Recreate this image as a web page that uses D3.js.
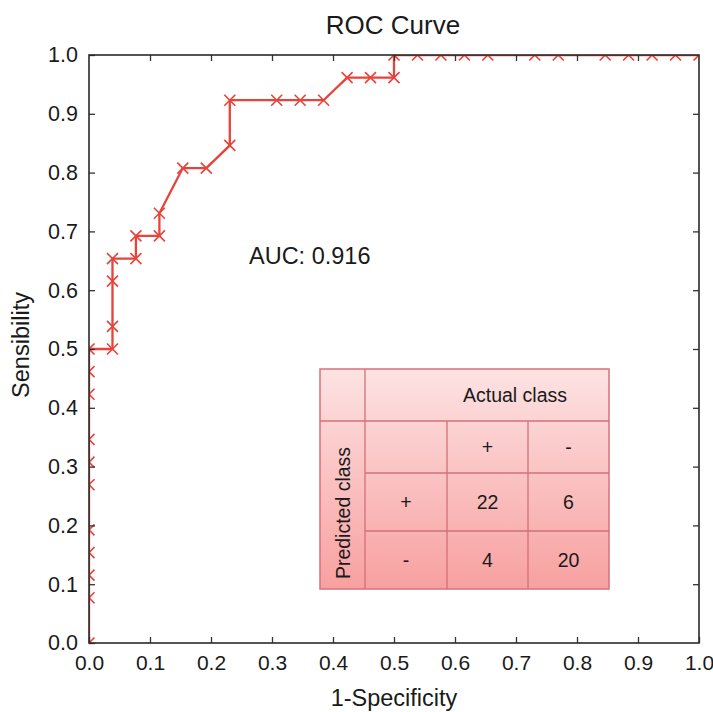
<!DOCTYPE html>
<html>
<head>
<meta charset="utf-8">
<script src="https://cdn.jsdelivr.net/npm/d3@7"></script>
<style>
  body { margin: 0; background: #fff; }
  text { font-family: "Liberation Sans", Arial, sans-serif; fill: #1a1a1a; }
</style>
</head>
<body>
<div id="container"></div>
<script>
let width = 713;
let height = 712;

// ROC points (1-specificity, sensitivity)
let fpr = [0, 0, 0, 0, 0, 0, 0, 0, 0, 0, 0,
    0.0385, 0.0385, 0.0385, 0.0385, 0.0769, 0.0769, 0.1154, 0.1154,
    0.1538, 0.1923, 0.2308, 0.2308, 0.3077, 0.3462, 0.3846,
    0.4231, 0.4615, 0.5, 0.5, 0.5385, 0.5769, 0.6154, 0.6538,
    0.7308, 0.7692, 0.8462, 0.8846, 0.9231, 0.9615, 1.0];
let tpr = [0, 0.0769, 0.1154, 0.1538, 0.1923, 0.2692, 0.3077, 0.3462, 0.4231, 0.4615, 0.5,
    0.5, 0.5385, 0.6154, 0.6538, 0.6538, 0.6923, 0.6923, 0.7308,
    0.8077, 0.8077, 0.8462, 0.9231, 0.9231, 0.9231, 0.9231,
    0.9615, 0.9615, 0.9615, 1.0, 1.0, 1.0, 1.0, 1.0,
    1.0, 1.0, 1.0, 1.0, 1.0, 1.0, 1.0];
let ticks = [0, 0.1, 0.2, 0.3, 0.4, 0.5, 0.6, 0.7, 0.8, 0.9, 1.0];
let auc = 0.916;

// confusion matrix
let actualLabels = ['+', '-'];
let predictedLabels = ['+', '-'];
let matrix = [[22, 6], [4, 20]];

let red = '#e8433a';
let m = { left: 89, right: 699, top: 55, bottom: 643 };

let svg = d3.select('#container')
    .append('svg')
    .attr('width', width)
    .attr('height', height);

let x = d3.scaleLinear().domain([0, 1]).range([m.left, m.right]);
let y = d3.scaleLinear().domain([0, 1]).range([m.bottom, m.top]);

svg.append('defs').append('clipPath')
    .attr('id', 'plotClip')
    .append('rect')
    .attr('x', m.left)
    .attr('y', m.top)
    .attr('width', m.right - m.left)
    .attr('height', m.bottom - m.top);

let pts = fpr.map((d, i) => [d, tpr[i]]);

let plot = svg.append('g').attr('clip-path', 'url(#plotClip)');

plot.append('path')
    .datum(pts)
    .attr('d', d3.line().x(d => x(d[0])).y(d => y(d[1])))
    .attr('fill', 'none')
    .attr('stroke', red)
    .attr('stroke-width', 2.3);

let s = 5.5;
plot.selectAll('.mark')
    .data(pts)
    .enter()
    .append('path')
    .attr('class', 'mark')
    .attr('d', d => {
        let cx = x(d[0]), cy = y(d[1]);
        return `M${cx - s},${cy - s}L${cx + s},${cy + s}M${cx - s},${cy + s}L${cx + s},${cy - s}`;
    })
    .attr('stroke', red)
    .attr('stroke-width', 1.6)
    .attr('fill', 'none');

// axes: box with inward ticks on all sides
let tickLen = 6;
svg.append('g')
    .attr('transform', `translate(0,${m.bottom})`)
    .call(d3.axisBottom(x).tickValues(ticks).tickSizeInner(-tickLen).tickSizeOuter(0)
        .tickPadding(11).tickFormat(d3.format('.1f')))
    .call(g => g.selectAll('text').attr('font-size', 21).attr('dy', '0.75em'));

svg.append('g')
    .attr('transform', `translate(${m.left},0)`)
    .call(d3.axisLeft(y).tickValues(ticks).tickSizeInner(-tickLen).tickSizeOuter(0)
        .tickPadding(11).tickFormat(d3.format('.1f')))
    .call(g => g.selectAll('text').attr('font-size', 21.5));

svg.append('g')
    .attr('transform', `translate(0,${m.top})`)
    .call(d3.axisTop(x).tickValues(ticks.slice(1, -1)).tickSizeInner(-tickLen).tickSizeOuter(0).tickFormat(''));

svg.append('g')
    .attr('transform', `translate(${m.right},0)`)
    .call(d3.axisRight(y).tickValues(ticks.slice(1, -1)).tickSizeInner(-tickLen).tickSizeOuter(0).tickFormat(''));

svg.selectAll('.domain').attr('stroke', 'none');
svg.selectAll('.tick line').attr('stroke', '#333').attr('stroke-width', 1.3);
svg.selectAll('.tick text').attr('fill', '#1a1a1a').attr('font-family', '"Liberation Sans", Arial, sans-serif');

svg.append('rect')
    .attr('x', m.left)
    .attr('y', m.top)
    .attr('width', m.right - m.left)
    .attr('height', m.bottom - m.top)
    .attr('fill', 'none')
    .attr('stroke', '#2a2a2a')
    .attr('stroke-width', 1.6);

// titles
svg.append('text')
    .attr('x', 393)
    .attr('y', 34)
    .attr('text-anchor', 'middle')
    .attr('font-size', 26)
    .text('ROC Curve');

svg.append('text')
    .attr('x', 394)
    .attr('y', 706)
    .attr('text-anchor', 'middle')
    .attr('font-size', 23.5)
    .text('1-Specificity');

svg.append('text')
    .attr('transform', 'translate(29,345) rotate(-90)')
    .attr('text-anchor', 'middle')
    .attr('font-size', 23.5)
    .text('Sensibility');

svg.append('text')
    .attr('x', 249)
    .attr('y', 264)
    .attr('font-size', 23.5)
    .text('AUC: ' + auc);

// confusion matrix table
let tbl = { cols: [320, 365, 447, 528, 609], rows: [369, 421, 473, 531, 589] };
let grad = svg.select('defs').append('linearGradient')
    .attr('id', 'tblGrad')
    .attr('x1', 0).attr('y1', 0).attr('x2', 0).attr('y2', 1);
grad.append('stop').attr('offset', '0%').attr('stop-color', '#fde3e3');
grad.append('stop').attr('offset', '100%').attr('stop-color', '#f8a0a0');

let tg = svg.append('g');
tg.append('rect')
    .attr('x', tbl.cols[0])
    .attr('y', tbl.rows[0])
    .attr('width', tbl.cols[4] - tbl.cols[0])
    .attr('height', tbl.rows[4] - tbl.rows[0])
    .attr('fill', 'url(#tblGrad)')
    .attr('stroke', '#d9707a')
    .attr('stroke-width', 1.5);

let lc = '#d27078';
// vertical lines
tg.append('line').attr('x1', tbl.cols[1]).attr('x2', tbl.cols[1])
    .attr('y1', tbl.rows[0]).attr('y2', tbl.rows[4]).attr('stroke', lc).attr('stroke-width', 1.3);
[2, 3].forEach(i => {
    tg.append('line').attr('x1', tbl.cols[i]).attr('x2', tbl.cols[i])
        .attr('y1', tbl.rows[1]).attr('y2', tbl.rows[4]).attr('stroke', lc).attr('stroke-width', 1.3);
});
// horizontal lines
tg.append('line').attr('x1', tbl.cols[0]).attr('x2', tbl.cols[4])
    .attr('y1', tbl.rows[1]).attr('y2', tbl.rows[1]).attr('stroke', lc).attr('stroke-width', 1.3);
[2, 3].forEach(i => {
    tg.append('line').attr('x1', tbl.cols[1]).attr('x2', tbl.cols[4])
        .attr('y1', tbl.rows[i]).attr('y2', tbl.rows[i]).attr('stroke', lc).attr('stroke-width', 1.3);
});

let cx = i => (tbl.cols[i] + tbl.cols[i + 1]) / 2;
let cy = i => (tbl.rows[i] + tbl.rows[i + 1]) / 2;
let fs = 19.5;

tg.append('text')
    .attr('x', 515)
    .attr('y', cy(0))
    .attr('dy', '0.36em')
    .attr('text-anchor', 'middle')
    .attr('font-size', fs)
    .text('Actual class');

tg.append('text')
    .attr('transform', `translate(${cx(0) + 7},${(tbl.rows[1] + tbl.rows[4]) / 2 + 8}) rotate(-90)`)
    .attr('text-anchor', 'middle')
    .attr('font-size', fs)
    .text('Predicted class');

actualLabels.forEach((d, i) => {
    tg.append('text')
        .attr('x', cx(i + 2))
        .attr('y', cy(1))
        .attr('dy', '0.36em')
        .attr('text-anchor', 'middle')
        .attr('font-size', fs)
        .text(d);
});

predictedLabels.forEach((d, r) => {
    tg.append('text')
        .attr('x', cx(1))
        .attr('y', cy(r + 2))
        .attr('dy', '0.36em')
        .attr('text-anchor', 'middle')
        .attr('font-size', fs)
        .text(d);
    matrix[r].forEach((v, c) => {
        tg.append('text')
            .attr('x', cx(c + 2))
            .attr('y', cy(r + 2))
            .attr('dy', '0.36em')
            .attr('text-anchor', 'middle')
            .attr('font-size', fs)
            .text(v);
    });
});
</script>
</body>
</html>
